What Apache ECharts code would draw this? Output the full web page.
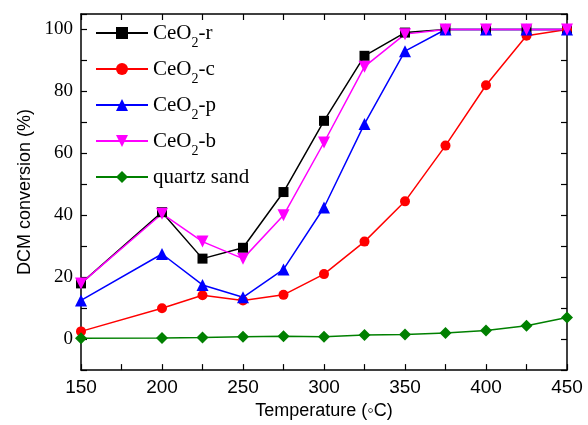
<!DOCTYPE html>
<html><head><meta charset="utf-8">
<script src="https://cdn.jsdelivr.net/npm/echarts@6/dist/echarts.min.js"></script>
<style>html,body{margin:0;padding:0;background:#fff}#c{width:588px;height:425px}</style>
</head><body><div id="c"></div>
<script>
const temps = [150,200,225,250,275,300,325,350,375,400,425,450];
const ceo2R = [18,41,26,29.5,47.5,70.5,91.5,99,100,100,100,100];
const ceo2C = [2.5,10,14.2,12.5,14.3,21,31.5,44.5,62.5,82,98,100];
const ceo2P = [12.5,27.5,17.5,13.5,22.5,42.5,69.5,93,100,100,100,100];
const ceo2B = [18,40.5,31.5,26,40,63.5,88,98.5,100,100,100,100];
const quartz = [0.3,0.4,0.5,0.8,0.9,0.8,1.3,1.5,2,2.8,4.3,7];
const seriesNames = ['CeO2-r','CeO2-c','CeO2-p','CeO2-b','quartz sand'];
const xTicks = [150,200,250,300,350,400,450];
const yTicks = [0,20,40,60,80,100];

function pairs(v){ return temps.map((t,i)=>[t,v[i]]); }
const chart = echarts.init(document.getElementById('c'));
function mk(name,data,color,symbol,size,rot){
  return {name,type:'line',data:pairs(data),xAxisIndex:0,yAxisIndex:0,
    symbol,symbolSize:size,symbolRotate:rot||0,showAllSymbol:true,
    lineStyle:{color,width:1.5},itemStyle:{color},z:3};
}
const lineS = {onZero:false,lineStyle:{color:'#000',width:1.5}};
const tickS = {inside:true,length:6,lineStyle:{color:'#000',width:1.2}};
chart.setOption({
  animation:false,
  grid:{left:81,right:21,top:14,bottom:53},
  legend:{
    orient:'vertical',left:90,top:16,itemWidth:52,itemHeight:15,itemGap:7,
    data:seriesNames,
    formatter:function(n){
      if(n.indexOf('CeO2')===0){ return '{a|CeO}{s|2}{a|'+n.slice(4)+'}'; }
      return '{a|'+n+'}';
    },
    textStyle:{rich:{
      a:{fontFamily:'Liberation Serif',fontSize:21,color:'#000',verticalAlign:'bottom',height:24,lineHeight:24},
      s:{fontFamily:'Liberation Serif',fontSize:14,color:'#000',verticalAlign:'bottom',padding:[0,0,-10,0],height:24,lineHeight:24}
    }}
  },
  xAxis:[
    {type:'value',min:150,max:450,interval:25,position:'bottom',
      name:'Temperature (\u25E6C)',nameLocation:'middle',nameGap:30,
      nameTextStyle:{fontFamily:'Liberation Sans',fontSize:18,color:'#000'},
      axisLine:lineS,axisTick:tickS,splitLine:{show:false},
      axisLabel:{fontFamily:'Liberation Sans',fontSize:19,color:'#000',margin:8,
        formatter:v=>xTicks.indexOf(v)>=0?String(v):''}},
    {type:'value',min:150,max:450,interval:25,position:'top',axisLabel:{show:false},
      axisLine:lineS,axisTick:tickS,splitLine:{show:false}}
  ],
  yAxis:[
    {type:'value',min:-10,max:105,interval:10,position:'left',
      name:'DCM conversion (%)',nameLocation:'middle',nameGap:45,
      nameTextStyle:{fontFamily:'Liberation Sans',fontSize:18,color:'#000'},
      axisLine:lineS,axisTick:tickS,splitLine:{show:false},
      axisLabel:{fontFamily:'Liberation Serif',fontSize:19,color:'#000',margin:8,
        formatter:v=>yTicks.indexOf(v)>=0?String(v):''}},
    {type:'value',min:-10,max:105,interval:10,position:'right',axisLabel:{show:false},
      axisLine:lineS,axisTick:tickS,splitLine:{show:false}}
  ],
  series:[
    mk(seriesNames[0],ceo2R,'#000000','rect',10),
    mk(seriesNames[1],ceo2C,'#ff0000','circle',10),
    mk(seriesNames[2],ceo2P,'#0000ff','triangle',12),
    mk(seriesNames[3],ceo2B,'#ff00ff','triangle',12,180),
    mk(seriesNames[4],quartz,'#008000','diamond',12)
  ]
});
</script></body></html>
